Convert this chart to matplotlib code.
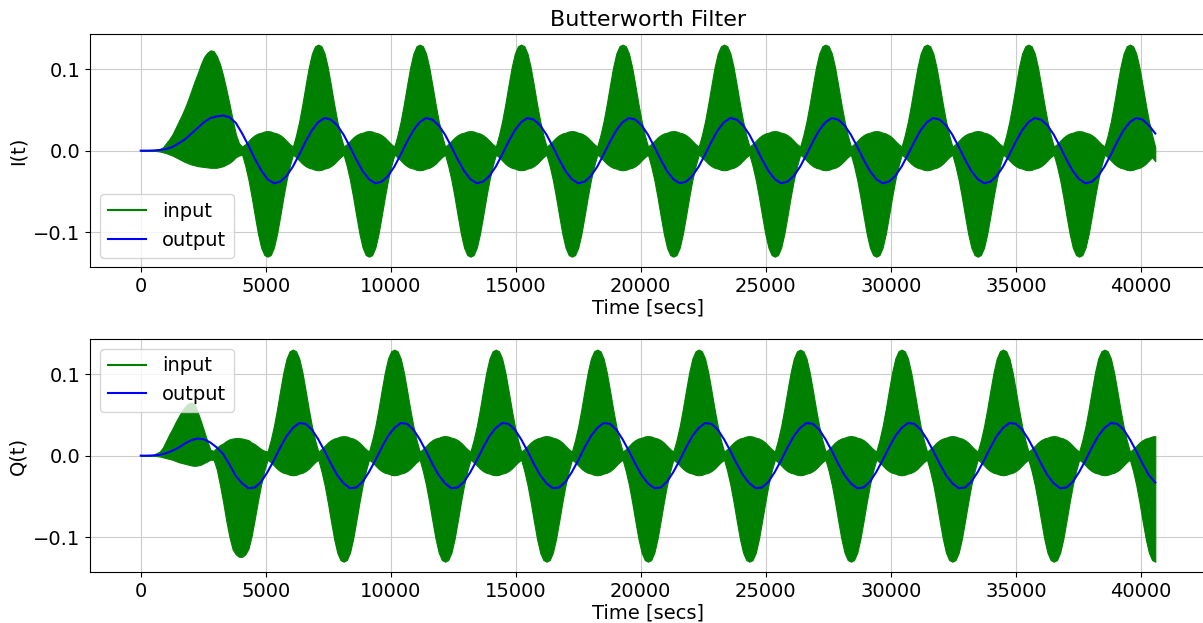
import numpy as np
import matplotlib.pyplot as plt
from matplotlib.lines import Line2D

# sample times [secs]: envelopes at 32 samples per modulation period, outputs at 16
t_env = np.arange(321) * 126.8
t_out = np.arange(161) * 253.6

# I channel: upper / lower envelope of the input and the filter output
i_in_hi = [
    0, 0, 0, 0, 0.0005, 0.001, 0.002, 0.004, 0.009, 0.014, 0.020, 0.028, 0.036, 0.044, 0.053, 0.063,
    0.074, 0.085, 0.095, 0.106, 0.115, 0.120, 0.123, 0.122, 0.116, 0.106, 0.092, 0.075, 0.057, 0.038, 0.020, 0.009,
    0.005, 0.008, 0.012, 0.016, 0.019, 0.021, 0.022, 0.0235, 0.024, 0.0235, 0.022, 0.021, 0.019, 0.016, 0.012, 0.008,
    0.005, 0.019, 0.036, 0.057, 0.080, 0.102, 0.119, 0.128, 0.130, 0.128, 0.119, 0.102, 0.080, 0.057, 0.036, 0.019,
    0.005, 0.008, 0.012, 0.016, 0.019, 0.021, 0.022, 0.0235, 0.024, 0.0235, 0.022, 0.021, 0.019, 0.016, 0.012, 0.008,
    0.005, 0.019, 0.036, 0.057, 0.080, 0.102, 0.119, 0.128, 0.130, 0.128, 0.119, 0.102, 0.080, 0.057, 0.036, 0.019,
    0.005, 0.008, 0.012, 0.016, 0.019, 0.021, 0.022, 0.0235, 0.024, 0.0235, 0.022, 0.021, 0.019, 0.016, 0.012, 0.008,
    0.005, 0.019, 0.036, 0.057, 0.080, 0.102, 0.119, 0.128, 0.130, 0.128, 0.119, 0.102, 0.080, 0.057, 0.036, 0.019,
    0.005, 0.008, 0.012, 0.016, 0.019, 0.021, 0.022, 0.0235, 0.024, 0.0235, 0.022, 0.021, 0.019, 0.016, 0.012, 0.008,
    0.005, 0.019, 0.036, 0.057, 0.080, 0.102, 0.119, 0.128, 0.130, 0.128, 0.119, 0.102, 0.080, 0.057, 0.036, 0.019,
    0.005, 0.008, 0.012, 0.016, 0.019, 0.021, 0.022, 0.0235, 0.024, 0.0235, 0.022, 0.021, 0.019, 0.016, 0.012, 0.008,
    0.005, 0.019, 0.036, 0.057, 0.080, 0.102, 0.119, 0.128, 0.130, 0.128, 0.119, 0.102, 0.080, 0.057, 0.036, 0.019,
    0.005, 0.008, 0.012, 0.016, 0.019, 0.021, 0.022, 0.0235, 0.024, 0.0235, 0.022, 0.021, 0.019, 0.016, 0.012, 0.008,
    0.005, 0.019, 0.036, 0.057, 0.080, 0.102, 0.119, 0.128, 0.130, 0.128, 0.119, 0.102, 0.080, 0.057, 0.036, 0.019,
    0.005, 0.008, 0.012, 0.016, 0.019, 0.021, 0.022, 0.0235, 0.024, 0.0235, 0.022, 0.021, 0.019, 0.016, 0.012, 0.008,
    0.005, 0.019, 0.036, 0.057, 0.080, 0.102, 0.119, 0.128, 0.130, 0.128, 0.119, 0.102, 0.080, 0.057, 0.036, 0.019,
    0.005, 0.008, 0.012, 0.016, 0.019, 0.021, 0.022, 0.0235, 0.024, 0.0235, 0.022, 0.021, 0.019, 0.016, 0.012, 0.008,
    0.005, 0.019, 0.036, 0.057, 0.080, 0.102, 0.119, 0.128, 0.130, 0.128, 0.119, 0.102, 0.080, 0.057, 0.036, 0.019,
    0.005, 0.008, 0.012, 0.016, 0.019, 0.021, 0.022, 0.0235, 0.024, 0.0235, 0.022, 0.021, 0.019, 0.016, 0.012, 0.008,
    0.005, 0.019, 0.036, 0.057, 0.080, 0.102, 0.119, 0.128, 0.130, 0.128, 0.119, 0.102, 0.080, 0.057, 0.036, 0.019,
    0.004,
]
i_in_lo = [
    0, 0, 0, 0, 0, -0.0005, -0.001, -0.002, -0.003, -0.0045, -0.006, -0.008, -0.010, -0.012, -0.014, -0.0155,
    -0.017, -0.018, -0.019, -0.0195, -0.020, -0.0205, -0.021, -0.021, -0.021, -0.020, -0.019, -0.017, -0.015, -0.012, -0.008, -0.006,
    -0.005, -0.019, -0.036, -0.057, -0.080, -0.102, -0.119, -0.128, -0.130, -0.128, -0.119, -0.102, -0.080, -0.057, -0.036, -0.019,
    -0.005, -0.008, -0.012, -0.016, -0.019, -0.021, -0.022, -0.0235, -0.024, -0.0235, -0.022, -0.021, -0.019, -0.016, -0.012, -0.008,
    -0.005, -0.019, -0.036, -0.057, -0.080, -0.102, -0.119, -0.128, -0.130, -0.128, -0.119, -0.102, -0.080, -0.057, -0.036, -0.019,
    -0.005, -0.008, -0.012, -0.016, -0.019, -0.021, -0.022, -0.0235, -0.024, -0.0235, -0.022, -0.021, -0.019, -0.016, -0.012, -0.008,
    -0.005, -0.019, -0.036, -0.057, -0.080, -0.102, -0.119, -0.128, -0.130, -0.128, -0.119, -0.102, -0.080, -0.057, -0.036, -0.019,
    -0.005, -0.008, -0.012, -0.016, -0.019, -0.021, -0.022, -0.0235, -0.024, -0.0235, -0.022, -0.021, -0.019, -0.016, -0.012, -0.008,
    -0.005, -0.019, -0.036, -0.057, -0.080, -0.102, -0.119, -0.128, -0.130, -0.128, -0.119, -0.102, -0.080, -0.057, -0.036, -0.019,
    -0.005, -0.008, -0.012, -0.016, -0.019, -0.021, -0.022, -0.0235, -0.024, -0.0235, -0.022, -0.021, -0.019, -0.016, -0.012, -0.008,
    -0.005, -0.019, -0.036, -0.057, -0.080, -0.102, -0.119, -0.128, -0.130, -0.128, -0.119, -0.102, -0.080, -0.057, -0.036, -0.019,
    -0.005, -0.008, -0.012, -0.016, -0.019, -0.021, -0.022, -0.0235, -0.024, -0.0235, -0.022, -0.021, -0.019, -0.016, -0.012, -0.008,
    -0.005, -0.019, -0.036, -0.057, -0.080, -0.102, -0.119, -0.128, -0.130, -0.128, -0.119, -0.102, -0.080, -0.057, -0.036, -0.019,
    -0.005, -0.008, -0.012, -0.016, -0.019, -0.021, -0.022, -0.0235, -0.024, -0.0235, -0.022, -0.021, -0.019, -0.016, -0.012, -0.008,
    -0.005, -0.019, -0.036, -0.057, -0.080, -0.102, -0.119, -0.128, -0.130, -0.128, -0.119, -0.102, -0.080, -0.057, -0.036, -0.019,
    -0.005, -0.008, -0.012, -0.016, -0.019, -0.021, -0.022, -0.0235, -0.024, -0.0235, -0.022, -0.021, -0.019, -0.016, -0.012, -0.008,
    -0.005, -0.019, -0.036, -0.057, -0.080, -0.102, -0.119, -0.128, -0.130, -0.128, -0.119, -0.102, -0.080, -0.057, -0.036, -0.019,
    -0.005, -0.008, -0.012, -0.016, -0.019, -0.021, -0.022, -0.0235, -0.024, -0.0235, -0.022, -0.021, -0.019, -0.016, -0.012, -0.008,
    -0.005, -0.019, -0.036, -0.057, -0.080, -0.102, -0.119, -0.128, -0.130, -0.128, -0.119, -0.102, -0.080, -0.057, -0.036, -0.019,
    -0.005, -0.008, -0.012, -0.016, -0.019, -0.021, -0.022, -0.0235, -0.024, -0.0235, -0.022, -0.021, -0.019, -0.016, -0.012, -0.008,
    -0.013,
]
i_out = [
    0, 0, 0.0002, 0.0008, 0.002, 0.0045, 0.009, 0.014, 0.021, 0.028, 0.035, 0.040, 0.042, 0.043, 0.041, 0.034,
    0.021, 0.006, -0.010, -0.024, -0.035, -0.040, -0.038, -0.031, -0.0195, -0.0047, 0.011, 0.025, 0.035, 0.040, 0.038, 0.031,
    0.0195, 0.0047, -0.011, -0.025, -0.035, -0.040, -0.038, -0.031, -0.0195, -0.0047, 0.011, 0.025, 0.035, 0.040, 0.038, 0.031,
    0.0195, 0.0047, -0.011, -0.025, -0.035, -0.040, -0.038, -0.031, -0.0195, -0.0047, 0.011, 0.025, 0.035, 0.040, 0.038, 0.031,
    0.0195, 0.0047, -0.011, -0.025, -0.035, -0.040, -0.038, -0.031, -0.0195, -0.0047, 0.011, 0.025, 0.035, 0.040, 0.038, 0.031,
    0.0195, 0.0047, -0.011, -0.025, -0.035, -0.040, -0.038, -0.031, -0.0195, -0.0047, 0.011, 0.025, 0.035, 0.040, 0.038, 0.031,
    0.0195, 0.0047, -0.011, -0.025, -0.035, -0.040, -0.038, -0.031, -0.0195, -0.0047, 0.011, 0.025, 0.035, 0.040, 0.038, 0.031,
    0.0195, 0.0047, -0.011, -0.025, -0.035, -0.040, -0.038, -0.031, -0.0195, -0.0047, 0.011, 0.025, 0.035, 0.040, 0.038, 0.031,
    0.0195, 0.0047, -0.011, -0.025, -0.035, -0.040, -0.038, -0.031, -0.0195, -0.0047, 0.011, 0.025, 0.035, 0.040, 0.038, 0.031,
    0.0195, 0.0047, -0.011, -0.025, -0.035, -0.040, -0.038, -0.031, -0.0195, -0.0047, 0.011, 0.025, 0.035, 0.040, 0.038, 0.031,
    0.021,
]

# Q channel
q_in_hi = [
    0, 0, 0, 0, 0.001, 0.003, 0.005, 0.010, 0.018, 0.026, 0.033, 0.041, 0.048, 0.055, 0.060, 0.064,
    0.065, 0.063, 0.053, 0.042, 0.030, 0.018, 0.007, 0.006, 0.010, 0.013, 0.015, 0.018, 0.020, 0.021, 0.0215, 0.0215,
    0.021, 0.020, 0.019, 0.016, 0.014, 0.011, 0.008, 0.006, 0.005, 0.019, 0.036, 0.057, 0.080, 0.102, 0.119, 0.128,
    0.130, 0.128, 0.119, 0.102, 0.080, 0.057, 0.036, 0.019, 0.005, 0.008, 0.012, 0.016, 0.019, 0.021, 0.022, 0.0235,
    0.024, 0.0235, 0.022, 0.021, 0.019, 0.016, 0.012, 0.008, 0.005, 0.019, 0.036, 0.057, 0.080, 0.102, 0.119, 0.128,
    0.130, 0.128, 0.119, 0.102, 0.080, 0.057, 0.036, 0.019, 0.005, 0.008, 0.012, 0.016, 0.019, 0.021, 0.022, 0.0235,
    0.024, 0.0235, 0.022, 0.021, 0.019, 0.016, 0.012, 0.008, 0.005, 0.019, 0.036, 0.057, 0.080, 0.102, 0.119, 0.128,
    0.130, 0.128, 0.119, 0.102, 0.080, 0.057, 0.036, 0.019, 0.005, 0.008, 0.012, 0.016, 0.019, 0.021, 0.022, 0.0235,
    0.024, 0.0235, 0.022, 0.021, 0.019, 0.016, 0.012, 0.008, 0.005, 0.019, 0.036, 0.057, 0.080, 0.102, 0.119, 0.128,
    0.130, 0.128, 0.119, 0.102, 0.080, 0.057, 0.036, 0.019, 0.005, 0.008, 0.012, 0.016, 0.019, 0.021, 0.022, 0.0235,
    0.024, 0.0235, 0.022, 0.021, 0.019, 0.016, 0.012, 0.008, 0.005, 0.019, 0.036, 0.057, 0.080, 0.102, 0.119, 0.128,
    0.130, 0.128, 0.119, 0.102, 0.080, 0.057, 0.036, 0.019, 0.005, 0.008, 0.012, 0.016, 0.019, 0.021, 0.022, 0.0235,
    0.024, 0.0235, 0.022, 0.021, 0.019, 0.016, 0.012, 0.008, 0.005, 0.019, 0.036, 0.057, 0.080, 0.102, 0.119, 0.128,
    0.130, 0.128, 0.119, 0.102, 0.080, 0.057, 0.036, 0.019, 0.005, 0.008, 0.012, 0.016, 0.019, 0.021, 0.022, 0.0235,
    0.024, 0.0235, 0.022, 0.021, 0.019, 0.016, 0.012, 0.008, 0.005, 0.019, 0.036, 0.057, 0.080, 0.102, 0.119, 0.128,
    0.130, 0.128, 0.119, 0.102, 0.080, 0.057, 0.036, 0.019, 0.005, 0.008, 0.012, 0.016, 0.019, 0.021, 0.022, 0.0235,
    0.024, 0.0235, 0.022, 0.021, 0.019, 0.016, 0.012, 0.008, 0.005, 0.019, 0.036, 0.057, 0.080, 0.102, 0.119, 0.128,
    0.130, 0.128, 0.119, 0.102, 0.080, 0.057, 0.036, 0.019, 0.005, 0.008, 0.012, 0.016, 0.019, 0.021, 0.022, 0.0235,
    0.024, 0.0235, 0.022, 0.021, 0.019, 0.016, 0.012, 0.008, 0.005, 0.019, 0.036, 0.057, 0.080, 0.102, 0.119, 0.128,
    0.130, 0.128, 0.119, 0.102, 0.080, 0.057, 0.036, 0.019, 0.005, 0.008, 0.012, 0.016, 0.019, 0.021, 0.022, 0.0235,
    0.024,
]
q_in_lo = [
    0, 0, 0, 0, 0, -0.0005, -0.001, -0.002, -0.003, -0.004, -0.005, -0.0065, -0.008, -0.009, -0.010, -0.011,
    -0.012, -0.0125, -0.012, -0.011, -0.009, -0.007, -0.005, -0.005, -0.017, -0.036, -0.057, -0.080, -0.100, -0.115, -0.121, -0.124,
    -0.124, -0.121, -0.114, -0.098, -0.077, -0.055, -0.035, -0.018, -0.005, -0.008, -0.012, -0.016, -0.019, -0.021, -0.022, -0.0235,
    -0.024, -0.0235, -0.022, -0.021, -0.019, -0.016, -0.012, -0.008, -0.005, -0.019, -0.036, -0.057, -0.080, -0.102, -0.119, -0.128,
    -0.130, -0.128, -0.119, -0.102, -0.080, -0.057, -0.036, -0.019, -0.005, -0.008, -0.012, -0.016, -0.019, -0.021, -0.022, -0.0235,
    -0.024, -0.0235, -0.022, -0.021, -0.019, -0.016, -0.012, -0.008, -0.005, -0.019, -0.036, -0.057, -0.080, -0.102, -0.119, -0.128,
    -0.130, -0.128, -0.119, -0.102, -0.080, -0.057, -0.036, -0.019, -0.005, -0.008, -0.012, -0.016, -0.019, -0.021, -0.022, -0.0235,
    -0.024, -0.0235, -0.022, -0.021, -0.019, -0.016, -0.012, -0.008, -0.005, -0.019, -0.036, -0.057, -0.080, -0.102, -0.119, -0.128,
    -0.130, -0.128, -0.119, -0.102, -0.080, -0.057, -0.036, -0.019, -0.005, -0.008, -0.012, -0.016, -0.019, -0.021, -0.022, -0.0235,
    -0.024, -0.0235, -0.022, -0.021, -0.019, -0.016, -0.012, -0.008, -0.005, -0.019, -0.036, -0.057, -0.080, -0.102, -0.119, -0.128,
    -0.130, -0.128, -0.119, -0.102, -0.080, -0.057, -0.036, -0.019, -0.005, -0.008, -0.012, -0.016, -0.019, -0.021, -0.022, -0.0235,
    -0.024, -0.0235, -0.022, -0.021, -0.019, -0.016, -0.012, -0.008, -0.005, -0.019, -0.036, -0.057, -0.080, -0.102, -0.119, -0.128,
    -0.130, -0.128, -0.119, -0.102, -0.080, -0.057, -0.036, -0.019, -0.005, -0.008, -0.012, -0.016, -0.019, -0.021, -0.022, -0.0235,
    -0.024, -0.0235, -0.022, -0.021, -0.019, -0.016, -0.012, -0.008, -0.005, -0.019, -0.036, -0.057, -0.080, -0.102, -0.119, -0.128,
    -0.130, -0.128, -0.119, -0.102, -0.080, -0.057, -0.036, -0.019, -0.005, -0.008, -0.012, -0.016, -0.019, -0.021, -0.022, -0.0235,
    -0.024, -0.0235, -0.022, -0.021, -0.019, -0.016, -0.012, -0.008, -0.005, -0.019, -0.036, -0.057, -0.080, -0.102, -0.119, -0.128,
    -0.130, -0.128, -0.119, -0.102, -0.080, -0.057, -0.036, -0.019, -0.005, -0.008, -0.012, -0.016, -0.019, -0.021, -0.022, -0.0235,
    -0.024, -0.0235, -0.022, -0.021, -0.019, -0.016, -0.012, -0.008, -0.005, -0.019, -0.036, -0.057, -0.080, -0.102, -0.119, -0.128,
    -0.130, -0.128, -0.119, -0.102, -0.080, -0.057, -0.036, -0.019, -0.005, -0.008, -0.012, -0.016, -0.019, -0.021, -0.022, -0.0235,
    -0.024, -0.0235, -0.022, -0.021, -0.019, -0.016, -0.012, -0.008, -0.005, -0.019, -0.036, -0.057, -0.080, -0.102, -0.119, -0.128,
    -0.130,
]
q_out = [
    0, 0, 0.0003, 0.001, 0.003, 0.006, 0.010, 0.015, 0.019, 0.021, 0.020, 0.016, 0.010, 0.002, -0.011, -0.025,
    -0.034, -0.040, -0.039, -0.032, -0.020, -0.0056, 0.010, 0.024, 0.034, 0.040, 0.039, 0.032, 0.020, 0.0056, -0.010, -0.024,
    -0.034, -0.040, -0.039, -0.032, -0.020, -0.0056, 0.010, 0.024, 0.034, 0.040, 0.039, 0.032, 0.020, 0.0056, -0.010, -0.024,
    -0.034, -0.040, -0.039, -0.032, -0.020, -0.0056, 0.010, 0.024, 0.034, 0.040, 0.039, 0.032, 0.020, 0.0056, -0.010, -0.024,
    -0.034, -0.040, -0.039, -0.032, -0.020, -0.0056, 0.010, 0.024, 0.034, 0.040, 0.039, 0.032, 0.020, 0.0056, -0.010, -0.024,
    -0.034, -0.040, -0.039, -0.032, -0.020, -0.0056, 0.010, 0.024, 0.034, 0.040, 0.039, 0.032, 0.020, 0.0056, -0.010, -0.024,
    -0.034, -0.040, -0.039, -0.032, -0.020, -0.0056, 0.010, 0.024, 0.034, 0.040, 0.039, 0.032, 0.020, 0.0056, -0.010, -0.024,
    -0.034, -0.040, -0.039, -0.032, -0.020, -0.0056, 0.010, 0.024, 0.034, 0.040, 0.039, 0.032, 0.020, 0.0056, -0.010, -0.024,
    -0.034, -0.040, -0.039, -0.032, -0.020, -0.0056, 0.010, 0.024, 0.034, 0.040, 0.039, 0.032, 0.020, 0.0056, -0.010, -0.024,
    -0.034, -0.040, -0.039, -0.032, -0.020, -0.0056, 0.010, 0.024, 0.034, 0.040, 0.039, 0.032, 0.020, 0.0056, -0.010, -0.024,
    -0.033,
]

x_ticks = [0, 5000, 10000, 15000, 20000, 25000, 30000, 35000, 40000]
y_ticks = [-0.1, 0.0, 0.1]

W, H = 1203, 623
fig = plt.figure(figsize=(W / 100, H / 100), dpi=100)
ax1 = fig.add_axes([90 / W, 1 - 267.3 / H, 1116 / W, 233.3 / H])
ax2 = fig.add_axes([90 / W, 1 - 572.3 / H, 1116 / W, 233.3 / H])

panels = [
    (ax1, i_in_hi, i_in_lo, i_out, 'I(t)', 'lower left'),
    (ax2, q_in_hi, q_in_lo, q_out, 'Q(t)', 'upper left'),
]
for ax, hi, lo, out, name, loc in panels:
    ax.fill_between(t_env, lo, hi, color='green', lw=0.8, joinstyle='round', zorder=2)
    ax.plot(t_out, out, color='blue', lw=1.5, zorder=3)
    handles = [Line2D([], [], color='green', lw=1.5, label='input'),
               Line2D([], [], color='blue', lw=1.5, label='output')]
    ax.legend(handles=handles, loc=loc, fontsize=14)
    ax.set_xticks(x_ticks)
    ax.set_yticks(y_ticks)
    ax.tick_params(labelsize=14)
    ax.set_xlabel('Time [secs]', fontsize=14, labelpad=2)
    ax.set_ylabel(name, fontsize=14)
    ax.grid(True, color='0.8', zorder=0)

ax1.set_title('Butterworth Filter', fontsize=16)

fig.savefig('out.png', dpi=100)
